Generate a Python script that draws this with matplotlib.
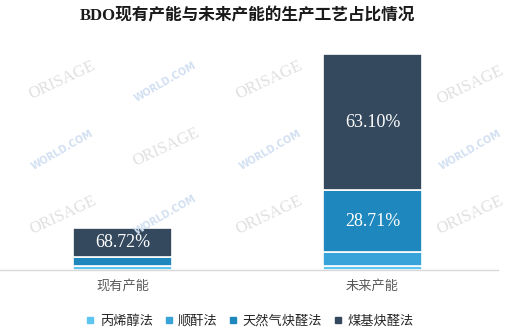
import matplotlib
matplotlib.use("Agg")
import matplotlib.pyplot as plt
import numpy as np
from matplotlib.lines import Line2D

plt.rcParams['font.family'] = ['Liberation Serif', 'Noto Sans CJK SC', 'DejaVu Sans']

# data (share of capacity per process, %) and total capacity (est., 10k t)
categories = ['现有产能', '未来产能']
processes = ['丙烯醇法', '顺酐法', '天然气炔醛法', '煤基炔醛法']
totals = [256, 1310]
share_allyl = [8.68, 1.80]
share_maleic = [0.0, 6.39]
share_gas = [22.60, 28.71]
share_coal = [68.72, 63.10]
colors = ['#5ec4f0', '#38a3d9', '#1e87bd', '#34495e']

shares = [share_allyl, share_maleic, share_gas, share_coal]

fig = plt.figure(figsize=(5.05, 3.33), dpi=100)
ax = fig.add_axes([0, 0.189, 0.986, 0.691])

# faint watermarks
wm_ori = [(62, 80), (269, 80), (470, 85), (166, 147), (63, 215), (269, 215), (470, 215)]
wm_world = [(165, 82), (62, 150), (270, 150), (470, 150), (165, 215)]
for (px, py) in wm_ori:
    fig.text(px / 505, 1 - py / 333, 'ORISAGE', color='#e0e0e0', fontsize=12,
             rotation=25, ha='center', va='center', family='Liberation Serif', zorder=0)
for (px, py) in wm_world:
    fig.text(px / 505, 1 - py / 333, 'WORLD.COM', color='#d2e0f2', fontsize=7,
             fontweight='bold', rotation=30, ha='center', va='center',
             family='DejaVu Sans', zorder=0)

x = np.arange(len(categories))
bottom = np.zeros(len(categories))
for name, sh, c in zip(processes, shares, colors):
    vals = np.array(sh) / 100 * np.array(totals)
    ax.bar(x, vals, 0.396, bottom=bottom, color=c, edgecolor='white',
           linewidth=1.2, label=name, zorder=2)
    for i in range(len(categories)):
        if sh[i] > 25:
            ax.text(x[i], bottom[i] + vals[i] / 2, '%.2f%%' % sh[i], color='white',
                    ha='center', va='center', fontsize=13,
                    family='Liberation Serif', zorder=3)
    bottom += vals

ax.set_xlim(-0.49, 1.502)
ax.set_ylim(0, totals[1] * 230 / 216)
ax.patch.set_alpha(0)
for s in ['top', 'right', 'left']:
    ax.spines[s].set_visible(False)
ax.spines['bottom'].set_color('#d9d9d9')
ax.spines['bottom'].set_linewidth(1)
ax.set_yticks([])
ax.set_xticks(x)
ax.set_xticklabels(categories, color='#595959', fontsize=9.5,
                   family=['Noto Sans CJK SC'])
ax.tick_params(axis='x', length=0, pad=7)

fig.text(0.49, 1 - 16 / 333, 'BDO现有产能与未来产能的生产工艺占比情况',
         ha='center', va='center', fontsize=12, fontweight='bold', color='#1a1a1a')

handles = [Line2D([], [], marker='s', linestyle='', markersize=4.5,
                  markerfacecolor=c, markeredgecolor=c) for c in colors]
fig.legend(handles, processes, loc='center', bbox_to_anchor=(0.495, 1 - 321 / 333),
           ncol=4, frameon=False, handlelength=0.6, handletextpad=0.4,
           columnspacing=0.9,
           prop={'family': ['Noto Sans CJK SC'], 'size': 9.5}, labelcolor='#262626')

fig.savefig('out.png', dpi=100)
